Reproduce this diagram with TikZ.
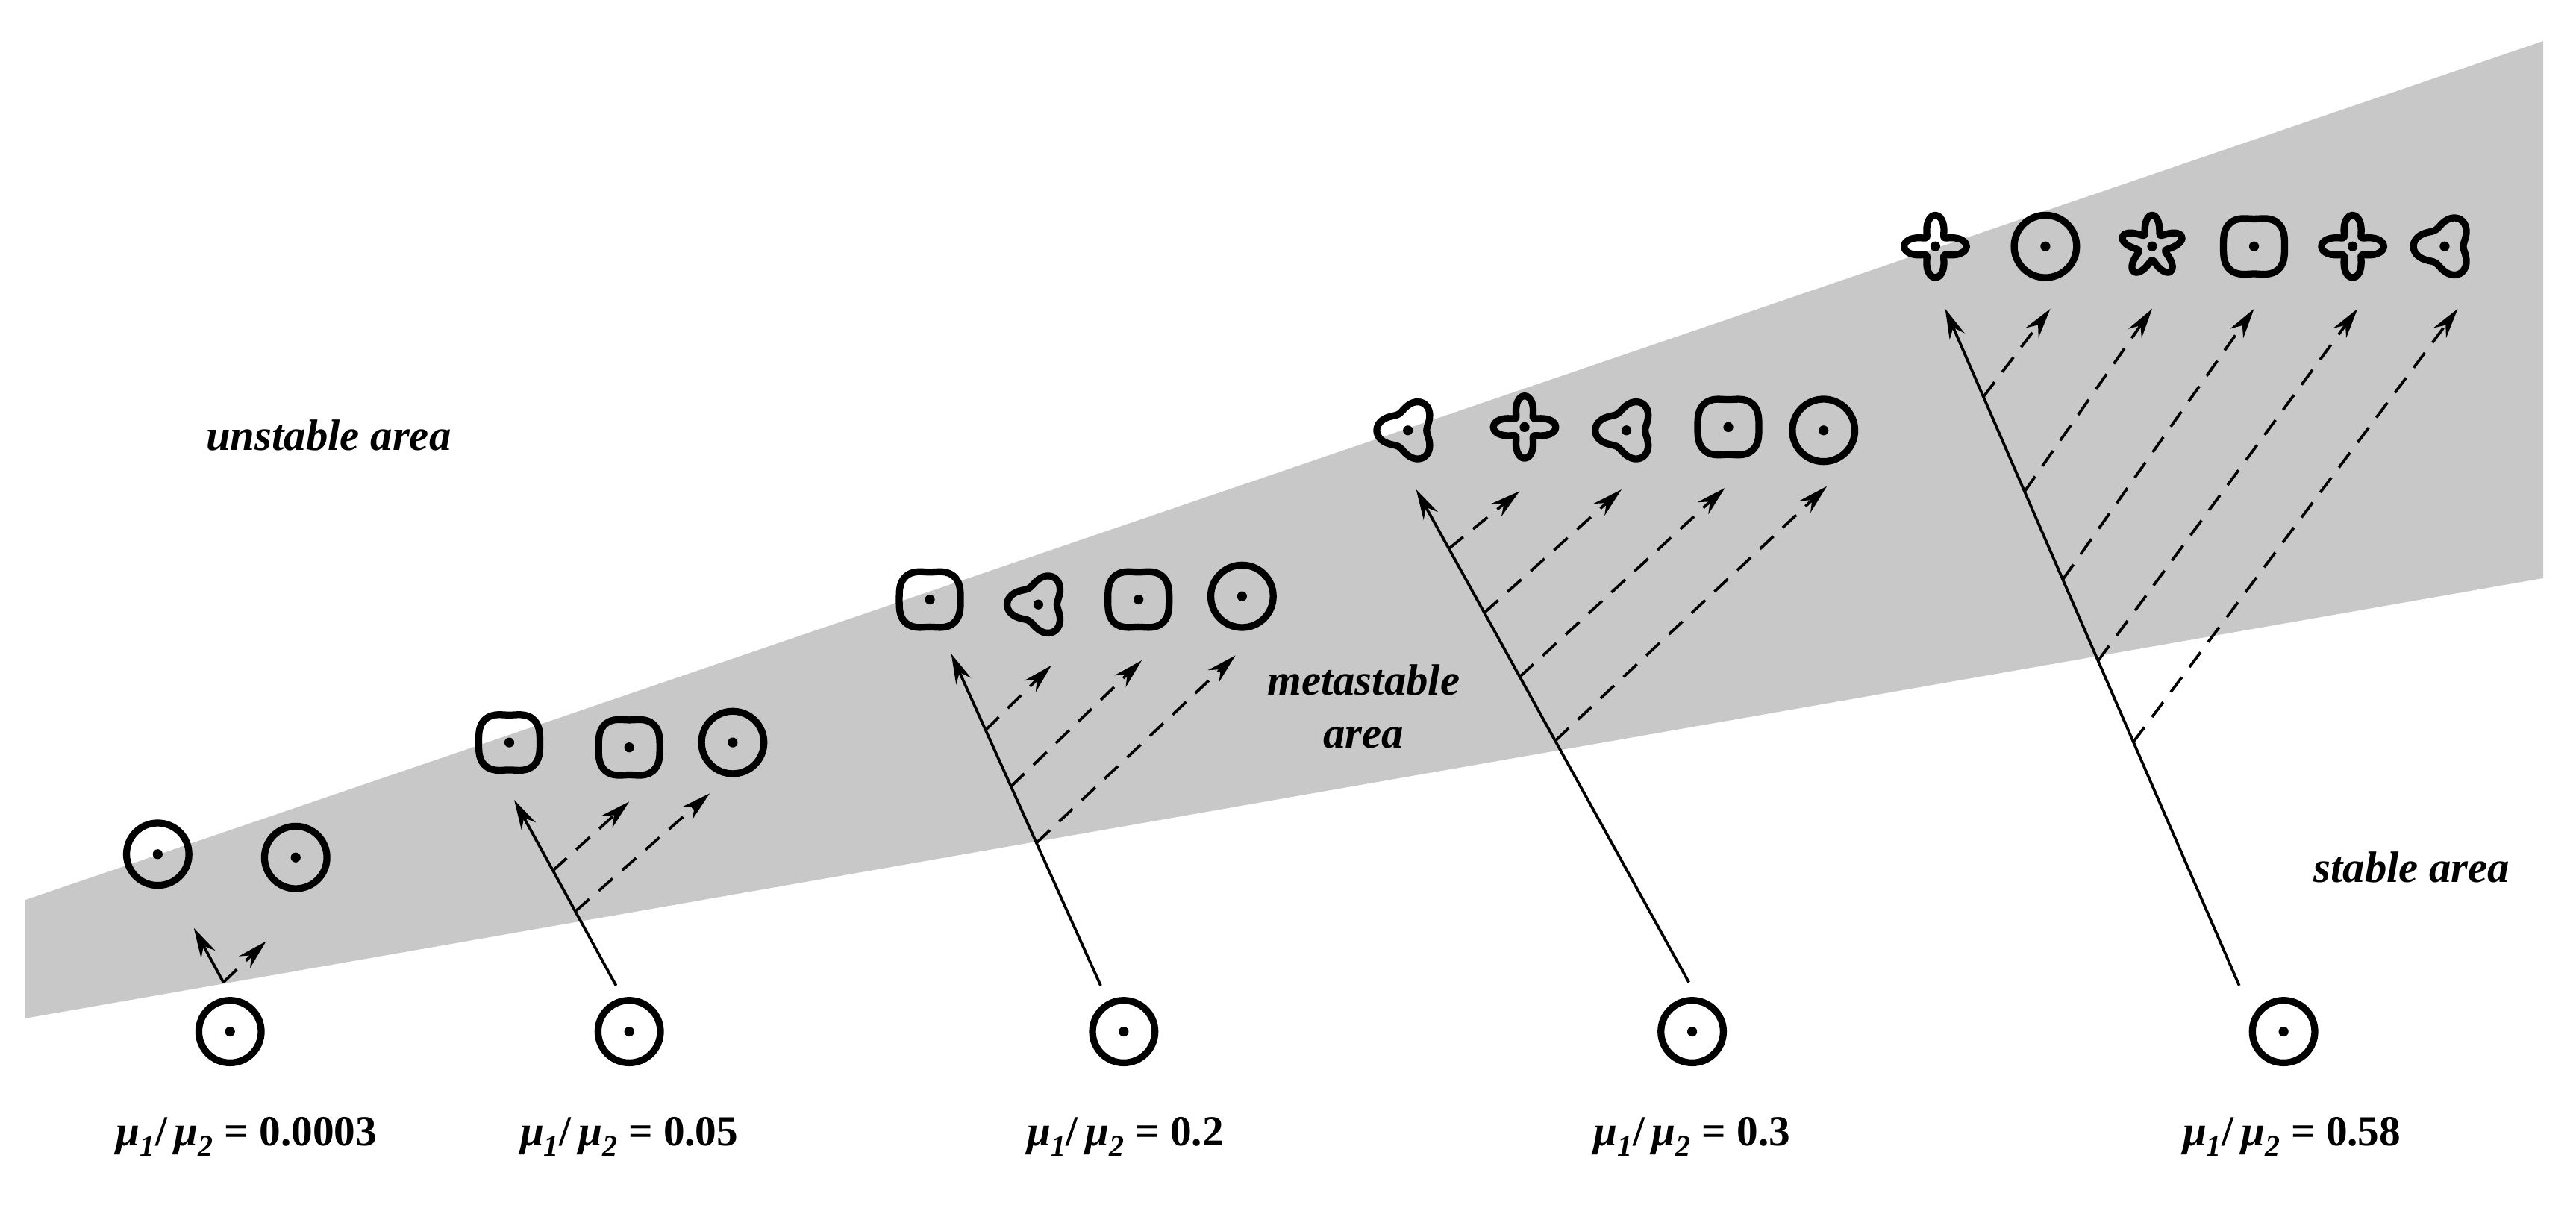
\documentclass[tikz,border=0pt]{standalone}
\usepackage{fontspec}
\setmainfont{Liberation Serif}
\usetikzlibrary{arrows.meta,calc}
\definecolor{band}{RGB}{200,200,200}
\begin{document}
\begin{tikzpicture}[x=0.05cm,y=-0.05cm,
  shp/.style={line width=6pt,line join=round},
  arr/.style={line width=2.4pt,-{Stealth[length=26pt,width=14pt]}},
  das/.style={arr,dash pattern=on 16pt off 11pt},
  lbl/.style={font=\fontsize{37}{42}\selectfont\bfseries},
  area/.style={font=\fontsize{38}{46}\selectfont\bfseries\itshape,align=center}]
\useasboundingbox (0,0) rectangle (1568,735);
\fill[band] (15,548) -- (1548,25) -- (1548,352) -- (15,620) -- cycle;
\newcommand\pcirc[2]{\coordinate (#1) at (#2);\draw[shp] (#1) circle (19);\fill (#1) circle (3);}
\newcommand\psq[2]{\coordinate (#1) at (#2);\draw[shp,shift={(#2)}] plot[domain=0:355,samples=72,smooth] (\x:{19*(1-0.07*cos(4*\x)+0.05*cos(2*\x))}) -- cycle;\fill (#1) circle (3);}
\newcommand\pfour[2]{\coordinate (#1) at (#2);\draw[shp,shift={(#2)}] plot[domain=0:355,samples=72,smooth] (\x:{19*(0.7+0.3*cos(4*\x))}) -- cycle;\fill (#1) circle (3);}
\newcommand\pfive[2]{\coordinate (#1) at (#2);\draw[shp,shift={(#2)}] plot[domain=0:355,samples=72,smooth] (\x:{19*(0.72+0.28*cos(5*\x+90))}) -- cycle;\fill (#1) circle (3);}
\newcommand\ptri[3]{\coordinate (#1) at (#2);\draw[shp,shift={(#2)}] plot[domain=0:355,samples=72,smooth] (\x:{19*(0.8-0.2*cos(3*(\x-#3)))}) -- cycle;\fill (#1) circle (3);}
\pcirc{b1}{140,628}\pcirc{b2}{383,628}\pcirc{b3}{684,628}\pcirc{b4}{1030,628}\pcirc{b5}{1390,628}
\foreach \x/\v in {150/0.0003,383/0.05,685/0.2,1030/0.3,1395/0.58}
  \node[lbl] at (\x,692) {{\itshape μ\textsubscript{1}}/\,{\itshape μ\textsubscript{2}} = \v};
\pcirc{a1}{96,520}\pcirc{a2}{180,522}
\coordinate (s1) at (136,598);
\draw[arr] (s1) -- (118,565);
\draw[das] (s1) -- (162,573);
\psq{c1}{310,452}\psq{c2}{383,455}\pcirc{c3}{446,452}
\coordinate (o2) at (375,600);
\coordinate (t2) at (313,487);
\draw[arr] (o2) -- (t2);
\draw[das] ($(o2)!0.62!(t2)$) -- (383,488);
\draw[das] ($(o2)!0.40!(t2)$) -- (432,483);
\psq{d1}{566,365}\ptri{d2}{632,368}{0}\psq{d3}{693,365}\pcirc{d4}{756,363}
\coordinate (o3) at (670,600);
\coordinate (t3) at (579,398);
\draw[arr] (o3) -- (t3);
\foreach \f/\e in {0.77/{640,405},0.60/{695,402},0.43/{752,399}}
  \draw[das] ($(o3)!\f!(t3)$) -- (\e);
\ptri{e1}{857,262}{0}\pfour{e2}{928,260}\ptri{e3}{990,262}{0}\psq{e4}{1052,260}\pcirc{e5}{1110,262}
\coordinate (o4) at (1028,598);
\coordinate (t4) at (862,298);
\draw[arr] (o4) -- (t4);
\foreach \f/\e in {0.88/{925,299},0.75/{987,298},0.62/{1050,297},0.49/{1112,296}}
  \draw[das] ($(o4)!\f!(t4)$) -- (\e);
\pfour{f1}{1178,150}\pcirc{f2}{1245,150}\pfive{f3}{1310,150}\psq{f4}{1372,150}\pfour{f5}{1432,150}\ptri{f6}{1488,150}{0}
\coordinate (o5) at (1363,600);
\coordinate (t5) at (1184,188);
\draw[arr] (o5) -- (t5);
\foreach \f/\e in {0.87/{1248,188},0.73/{1310,188},0.60/{1372,188},0.48/{1435,188},0.36/{1496,188}}
  \draw[das] ($(o5)!\f!(t5)$) -- (\e);
\node[area] at (200,265) {unstable area};
\node[area] at (830,430) {metastable\\area};
\node[area] at (1468,528) {stable area};
\end{tikzpicture}
\end{document}
